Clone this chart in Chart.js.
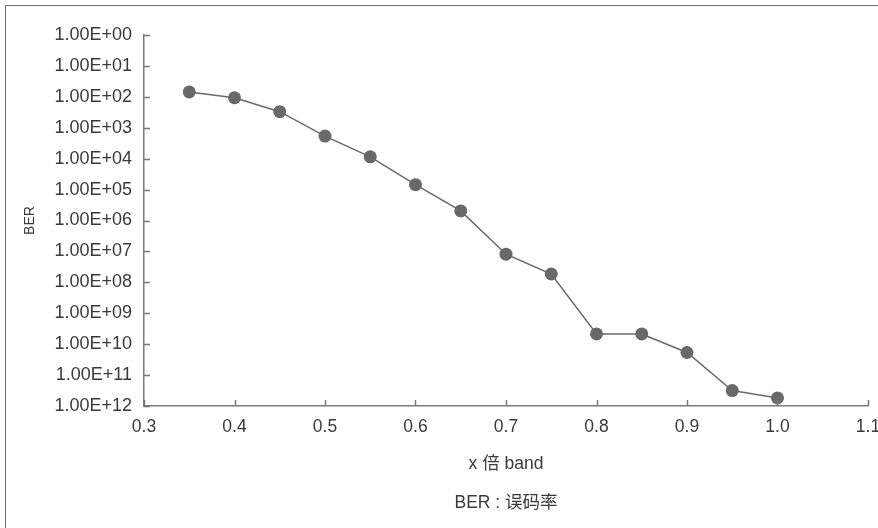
<!DOCTYPE html>
<html>
<head>
<meta charset="utf-8">
<script src="https://cdn.jsdelivr.net/npm/chart.js@4/dist/chart.umd.min.js"></script>
<style>
  html, body { margin: 0; padding: 0; background: #fff; }
  #wrap { position: relative; width: 878px; height: 528px; overflow: hidden; }
  #frame { position: absolute; left: 5px; top: 5px; width: 900px; height: 600px;
           border-top: 1.5px solid #6e6e6e; border-left: 1.5px solid #6e6e6e; pointer-events: none; }
  canvas { display: block; }
</style>
</head>
<body>
<div id="wrap">
  <canvas id="c" width="878" height="528"></canvas>
  <div id="frame"></div>
</div>
<script>
// x: multiple of band; y: BER exponent (1.00E+nn, axis runs 00 at top to 12 at bottom)
const xValues = [0.35, 0.40, 0.45, 0.50, 0.55, 0.60, 0.65, 0.70, 0.75, 0.80, 0.85, 0.90, 0.95, 1.00];
const berExponent = [1.84, 2.03, 2.48, 3.27, 3.94, 4.84, 5.69, 7.09, 7.73, 9.67, 9.67, 10.27, 11.50, 11.74];
const yTickLabels = ['1.00E+00','1.00E+01','1.00E+02','1.00E+03','1.00E+04','1.00E+05','1.00E+06',
                     '1.00E+07','1.00E+08','1.00E+09','1.00E+10','1.00E+11','1.00E+12'];
const xTickLabels = ['0.3','0.4','0.5','0.6','0.7','0.8','0.9','1.0','1.1'];
const xAxisTitle = 'x 倍 band';
const yAxisTitle = 'BER';
const noteText = 'BER : 误码率';

const FONT = "'Liberation Sans', Arial, 'Noto Sans CJK SC', sans-serif";
const AXIS = '#7a7a7a';
const INK = '#3a3a3a';
const MARK = '#69696c';

const innerTicks = {
  id: 'innerTicks',
  afterDatasetsDraw(chart) {
    const {ctx, chartArea, scales} = chart;
    ctx.save();
    ctx.strokeStyle = AXIS;
    ctx.lineWidth = 1.5;
    ctx.beginPath();
    scales.x.ticks.forEach(t => {
      const px = Math.round(scales.x.getPixelForValue(t.value)) + 0.5;
      ctx.moveTo(px, chartArea.bottom);
      ctx.lineTo(px, chartArea.bottom - 6);
    });
    scales.y.ticks.forEach(t => {
      const py = Math.round(scales.y.getPixelForValue(t.value)) + 0.5;
      ctx.moveTo(chartArea.left, py);
      ctx.lineTo(chartArea.left + 6, py);
    });
    ctx.stroke();
    ctx.restore();
  }
};

new Chart(document.getElementById('c'), {
  type: 'scatter',
  data: {
    datasets: [{
      data: xValues.map((x, i) => ({x: x, y: berExponent[i]})),
      showLine: true,
      borderColor: MARK,
      backgroundColor: MARK,
      borderWidth: 1.5,
      pointRadius: 6.5,
      pointHoverRadius: 6.5,
      pointBackgroundColor: MARK,
      pointBorderColor: MARK,
      pointBorderWidth: 0
    }]
  },
  options: {
    responsive: false,
    animation: false,
    events: [],
    layout: { padding: { left: 0, right: 10, top: 35, bottom: 5.5 } },
    plugins: {
      legend: { display: false },
      tooltip: { enabled: false },
      title: { display: false }
    },
    scales: {
      x: {
        type: 'linear',
        min: 0.3,
        max: 1.1,
        grid: { display: false, drawTicks: false },
        border: { display: true, color: AXIS, width: 1.5 },
        ticks: {
          stepSize: 0.1,
          padding: 11,
          color: INK,
          font: { family: FONT, size: 17.5 },
          maxRotation: 0,
          callback: (v) => xTickLabels[Math.round((v - 0.3) * 10)]
        },
        title: {
          display: true,
          text: [xAxisTitle, noteText],
          color: INK,
          font: { family: FONT, size: 17.5, lineHeight: '39px' },
          padding: { top: 0, bottom: 0 }
        },
        afterFit(s) { s.height = 116.5; s.paddingLeft = 0; s.paddingRight = 0; }
      },
      y: {
        type: 'linear',
        reverse: true,
        min: 0,
        max: 12,
        grid: { display: false, drawTicks: false },
        border: { display: true, color: AXIS, width: 1.5 },
        ticks: {
          stepSize: 1,
          padding: 12,
          color: INK,
          font: { family: FONT, size: 18 },
          callback: (v) => yTickLabels[Math.round(v)]
        },
        title: {
          display: true,
          text: yAxisTitle,
          color: INK,
          font: { family: FONT, size: 14, lineHeight: 1.2 },
          padding: { top: 21.5, bottom: 0 }
        },
        afterFit(s) { s.width = 144; s.paddingTop = 0; s.paddingBottom = 0; }
      }
    }
  },
  plugins: [innerTicks]
});
</script>
</body>
</html>
